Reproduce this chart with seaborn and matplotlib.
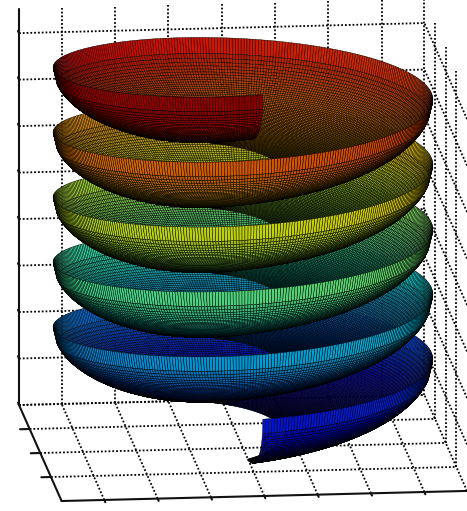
import numpy as np
import matplotlib
matplotlib.use("Agg")
import matplotlib.pyplot as plt
import seaborn as sns
from mpl_toolkits.mplot3d import proj3d

# --- axes ticks and limits
x_limits = [-1.9, 1.9]
y_limits = [-1.9, 1.9]
z_limits = [0.0, 8.52]
x_ticks = [-1.5, -1.0, -0.5, 0.0, 0.5, 1.0, 1.5]
y_ticks = [-0.95, 0.0, 0.95, 1.9]
z_ticks = [0, 1, 2, 3, 4, 5, 6, 7, 8]

# --- spiral bowl surface
turn_count = 5
rim_radius = 1.77
hole_fraction = 0.22
rim_height_top = 8.56
rim_height_bottom = 1.58
bowl_depth = 1.65
color_limits = [0.0, 8.56]
columns_per_turn = 400
radial_rows = 60
inner_row_end = 0.98
interior_brightness = 0.72
ribbon_brightness = 0.82

sns.set_style("white")
W, H = 467, 511
fig = plt.figure(figsize=(W / 100, H / 100), dpi=100)
fig.patch.set_facecolor("white")
side = 800
pos = [(W - side) / 2, (H - side) / 2]
ax = fig.add_axes([pos[0] / W, pos[1] / H, side / W, side / H], projection="3d",
                  proj_type="ortho", computed_zorder=False)
ax.set_xlim(x_limits)
ax.set_ylim(y_limits)
ax.set_zlim(z_limits)
ax.view_init(elev=13.7, azim=-96)
ax.set_axis_off()
ax.patch.set_alpha(0)

# layout calibration: two box corners land on their reference pixels
zoom = 1.0
ax.set_box_aspect((1, 1, 1), zoom=zoom)
def to_px(x, y, z):
    X, Y, _ = proj3d.proj_transform(x, y, z, ax.get_proj())
    return ax.transData.transform((X, Y))
for _ in range(3):
    fig.canvas.draw()
    a = to_px(x_limits[0], y_limits[1], 0)
    b = to_px(x_limits[1], y_limits[0], 0)
    zoom *= (467 - 19) / (b[0] - a[0])
    ax.set_box_aspect((1, 1, 1), zoom=zoom)
    fig.canvas.draw()
    a = to_px(x_limits[0], y_limits[1], 0)
    pos[0] += 19 - a[0]
    pos[1] += (H - 405) - a[1]
    ax.set_position([pos[0] / W, pos[1] / H, side / W, side / H])

# --- grid and axes
dot = dict(color="black", lw=1.3, ls=(0, (1, 1.1)), zorder=1, clip_on=False)
solid = dict(color="#111111", lw=1.5, zorder=2, clip_on=False)
x0, x1 = x_limits
y0, y1 = y_limits
z0, z1 = z_limits
for xt in x_ticks:
    ax.plot([xt, xt], [y1, y1], [z0, z1], **dot)
    ax.plot([xt, xt], [y0, y1], [z0, z0], **dot)
    ax.plot([xt, xt], [y0 - 0.09, y0], [z0, z0], **solid)
for yt in y_ticks:
    ax.plot([x1, x1], [yt, yt], [z0, z1], **dot)
    ax.plot([x0, x1], [yt, yt], [z0, z0], **dot)
    if yt < y1:
        ax.plot([x0 - 0.09, x0], [yt, yt], [z0, z0], **solid)
for zt in z_ticks:
    ax.plot([x0, x1], [y1, y1], [zt, zt], **dot)
    ax.plot([x1, x1], [y0, y1], [zt, zt], **dot)
    ax.plot([x0, x0], [y1, y1 + 0.09], [zt, zt], **solid)
ax.plot([x0, x0], [y1, y1], [z0, z1], **solid)
ax.plot([x0, x0], [y0, y1], [z0, z0], **solid)
ax.plot([x0, x1], [y0, y0], [z0, z0], **solid)

# --- surface
s = np.linspace(0, turn_count, turn_count * columns_per_turn + 1)
rel = np.append(np.linspace(hole_fraction, inner_row_end, radial_rows), 1.0)
S, R = np.meshgrid(s, rel)
theta = np.radians(-90 - 360 * S)
rim = rim_height_top + (rim_height_bottom - rim_height_top) * S / turn_count
r = rim_radius * R
X = r * np.cos(theta)
Y = r * np.sin(theta)
Z = rim - bowl_depth * np.sqrt(1 - R ** 2)
jet = matplotlib.colormaps["jet"]
faces = jet((Z - color_limits[0]) / (color_limits[1] - color_limits[0]))
faces[:-2, :, :3] *= interior_brightness
faces[-2:, :, :3] *= ribbon_brightness
ax.plot_surface(X, Y, Z, facecolors=faces, shade=False, rstride=1, cstride=1,
                edgecolor="black", linewidth=0.3, antialiased=True, zorder=5)

fig.savefig("out.png", dpi=100, facecolor="white")
